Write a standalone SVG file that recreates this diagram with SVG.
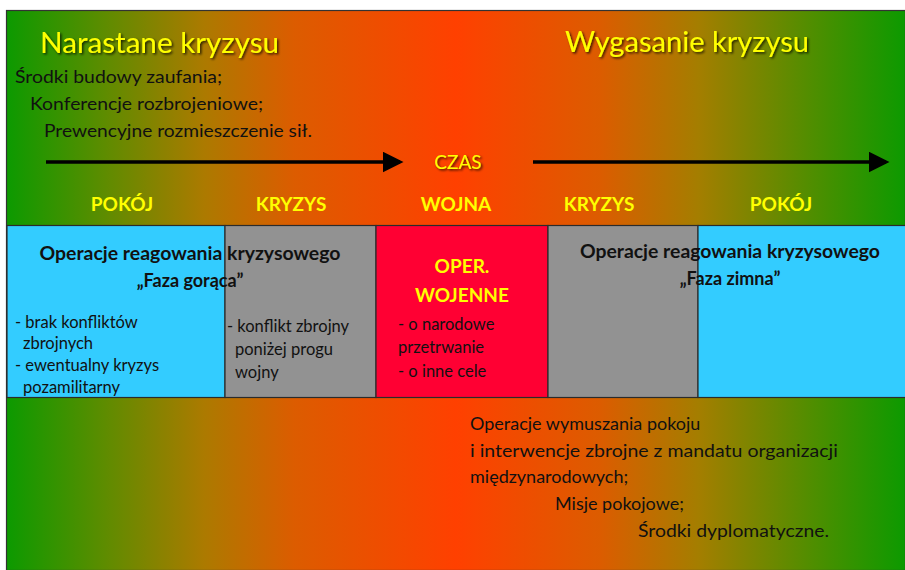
<svg xmlns="http://www.w3.org/2000/svg" width="905" height="570" viewBox="0 0 905 570">
  <defs>
    <linearGradient id="bg" x1="0" y1="0" x2="1" y2="0">
      <stop offset="0" stop-color="#0c9a00"/>
      <stop offset="0.11" stop-color="#5e8c00"/>
      <stop offset="0.22" stop-color="#ac7a00"/>
      <stop offset="0.32" stop-color="#dc5c00"/>
      <stop offset="0.5" stop-color="#ff4000"/>
      <stop offset="0.66" stop-color="#dc5c00"/>
      <stop offset="0.77" stop-color="#a47e00"/>
      <stop offset="0.88" stop-color="#5a8c00"/>
      <stop offset="1" stop-color="#0c9a00"/>
    </linearGradient>
    <filter id="shadow" x="-10%" y="-30%" width="120%" height="160%">
      <feDropShadow dx="1.5" dy="1.5" stdDeviation="0.8" flood-color="#000" flood-opacity="0.75"/>
    </filter>
    <marker id="head" markerWidth="6" markerHeight="6" refX="5" refY="3" orient="auto" markerUnits="strokeWidth">
      <path d="M0,0 L6,3 L0,6 Z" fill="#000"/>
    </marker>
    <style>
      text { font-family: Lato, "Open Sans", "Liberation Sans", sans-serif; }
      .title { font-size: 29px; fill: #ffff00; filter: url(#shadow); }
      .body { font-size: 18px; fill: #111; }
      .phase { font-size: 19px; font-weight: bold; fill: #ffff00; text-anchor: middle; }
      .head { font-size: 18px; font-weight: bold; fill: #111; text-anchor: middle; }
      .cell { font-size: 16.5px; fill: #111; }
      .box { stroke: #2b2b2b; stroke-width: 1.2; }
      .arrow { stroke: #000; stroke-width: 3.5; fill: none; marker-end: url(#head); }
    </style>
  </defs>

  <!-- background panel -->
  <rect x="0" y="0" width="905" height="570" fill="#ffffff"/>
  <rect x="6.5" y="10.5" width="899" height="560" fill="url(#bg)" stroke="#333" stroke-width="1.2"/>

  <!-- rising phase -->
  <g id="rising">
    <text class="title" x="40" y="53" textLength="239" lengthAdjust="spacingAndGlyphs">Narastane kryzysu</text>
    <text class="body" x="15" y="83" textLength="207" lengthAdjust="spacingAndGlyphs">Środki budowy zaufania;</text>
    <text class="body" x="30" y="110" textLength="233" lengthAdjust="spacingAndGlyphs">Konferencje rozbrojeniowe;</text>
    <text class="body" x="44" y="137" textLength="268" lengthAdjust="spacingAndGlyphs">Prewencyjne rozmieszczenie sił.</text>
  </g>

  <!-- fading phase -->
  <g id="fading">
    <text class="title" x="565" y="52" textLength="244" lengthAdjust="spacingAndGlyphs">Wygasanie kryzysu</text>
  </g>

  <!-- time axis -->
  <g id="connectors">
    <line class="arrow" x1="46" y1="162" x2="400" y2="162"/>
    <line class="arrow" x1="533" y1="162" x2="886" y2="162"/>
  </g>
  <g id="time">
    <text x="458" y="169" font-size="19" fill="#ffff00" text-anchor="middle" filter="url(#shadow)">CZAS</text>
  </g>

  <!-- phase labels -->
  <g id="phases">
    <text class="phase" x="122" y="211">POKÓJ</text>
    <text class="phase" x="291" y="211">KRYZYS</text>
    <text class="phase" x="456" y="211">WOJNA</text>
    <text class="phase" x="599" y="211">KRYZYS</text>
    <text class="phase" x="781" y="211">POKÓJ</text>
  </g>

  <!-- operations band -->
  <g id="peace-left">
    <rect class="box" x="7" y="225.5" width="218" height="172" fill="#33ccff"/>
  </g>
  <g id="crisis-left">
    <rect class="box" x="225" y="225.5" width="151" height="172" fill="#929292"/>
  </g>
  <g id="war">
    <rect class="box" x="376" y="225.5" width="172" height="172" fill="#ff0033"/>
  </g>
  <g id="crisis-right">
    <rect class="box" x="548" y="225.5" width="150" height="172" fill="#929292"/>
  </g>
  <g id="peace-right">
    <rect class="box" x="698" y="225.5" width="210" height="172" fill="#33ccff"/>
  </g>

  <g id="hot-phase">
    <text class="head" x="190" y="260" textLength="301" lengthAdjust="spacingAndGlyphs">Operacje reagowania kryzysowego</text>
    <text class="head" x="190" y="287">„Faza gorąca”</text>
    <text class="cell" x="15" y="328">- brak konfliktów</text>
    <text class="cell" x="23" y="349">zbrojnych</text>
    <text class="cell" x="15" y="371">- ewentualny kryzys</text>
    <text class="cell" x="23" y="393">pozamilitarny</text>
  </g>

  <g id="crisis-notes">
    <text class="cell" x="227" y="332">- konflikt zbrojny</text>
    <text class="cell" x="235" y="355">poniżej progu</text>
    <text class="cell" x="235" y="378">wojny</text>
  </g>

  <g id="war-ops">
    <text x="462" y="273" font-size="19" font-weight="bold" fill="#ffff00" text-anchor="middle">OPER.</text>
    <text x="462" y="302" font-size="19" font-weight="bold" fill="#ffff00" text-anchor="middle">WOJENNE</text>
    <text class="cell" x="398" y="330">- o narodowe</text>
    <text class="cell" x="398" y="353">przetrwanie</text>
    <text class="cell" x="398" y="377">- o inne cele</text>
  </g>

  <g id="cold-phase">
    <text class="head" x="730" y="258" textLength="300" lengthAdjust="spacingAndGlyphs">Operacje reagowania kryzysowego</text>
    <text class="head" x="730" y="285">„Faza zimna”</text>
  </g>

  <!-- peace enforcement -->
  <g id="enforcement">
    <text class="body" x="470" y="430">Operacje wymuszania pokoju</text>
    <text class="body" x="470" y="457" textLength="368" lengthAdjust="spacingAndGlyphs">i interwencje zbrojne z mandatu organizacji</text>
    <text class="body" x="470" y="483">międzynarodowych;</text>
    <text class="body" x="555" y="510">Misje pokojowe;</text>
    <text class="body" x="638" y="537" textLength="191" lengthAdjust="spacingAndGlyphs">Środki dyplomatyczne.</text>
  </g>
</svg>
